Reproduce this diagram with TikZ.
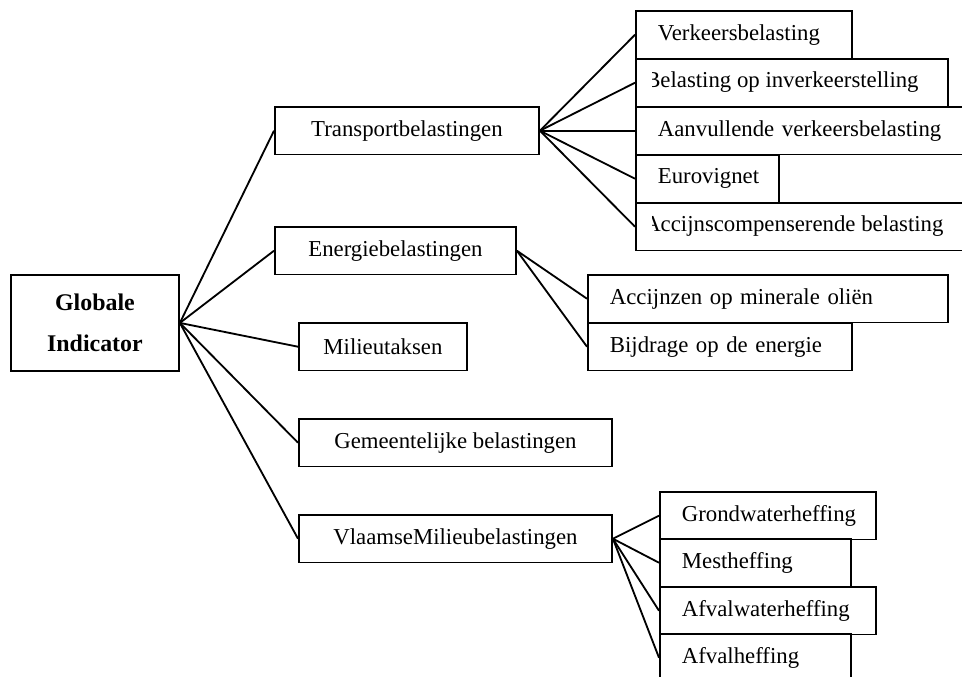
\documentclass[tikz,border=0pt]{standalone}
\usepackage{fontspec}
\setmainfont{Liberation Serif}
\usepackage{tikz}
\tikzset{
	root/.style={draw, line width=1.3pt, anchor=north west, inner sep=0pt, minimum width=4.2cm, minimum height=2.4cm, align=center, font=\bfseries\fontsize{17}{29.5}\selectfont},
	mid/.style={draw, line width=1.3pt, anchor=north west, inner sep=0pt, minimum width=#1, minimum height=1.19cm, font=\fontsize{16.2}{19}\selectfont},
	leaf/.style={draw, line width=1.3pt, anchor=north west, inner xsep=0.55cm, inner ysep=0pt, text width=#1, align=left, minimum height=1.19cm, font=\fontsize{16.2}{19}\selectfont},
	cuttext/.style={anchor=west, inner sep=0pt, font=\fontsize{16.2}{19}\selectfont},
	link/.style={line width=1.3pt},
}

\begin{document}
\begin{tikzpicture}[x=0.025cm, y=-0.025cm]
		%%%%% START %%%%%
		\useasboundingbox (0,0) rectangle (962,677);
		\clip (0,0) rectangle (962,677);
		
		\node[root] (glob) at (10,274) {Globale\\Indicator};
		
		\node[mid=6.6cm] (trans) at (274,106) {Transportbelastingen};
		\node[mid=6.025cm] (energ) at (274,226) {Energiebelastingen};
		\node[mid=4.2cm] (milieu) at (298,322) {Milieutaksen};
		\node[mid=7.825cm] (gemeen) at (298,418) {Gemeentelijke belastingen};
		\node[mid=7.825cm] (vlaams) at (298,514) {VlaamseMilieubelastingen};
		
		% transport
		\node[leaf=4.3cm] (verk) at (635,10) {Verkeersbelasting};
		\node[leaf=6.7cm] (inverk) at (635,58) {};
		\begin{scope}
			\clip (652,58) rectangle (962,106);
			\node[cuttext] (inverktxt) at (645,82) {Belasting op inverkeerstelling};
		\end{scope}
		\node[leaf=8.4cm] (aanv) at (635,106) {Aanvullende verkeersbelasting};
		\node[leaf=8.4cm] (accomp) at (635,202) {};
		\begin{scope}
			\clip (652,202) rectangle (962,250);
			\node[cuttext] (accomptxt) at (644,226) {Accijnscompenserende belasting};
		\end{scope}
		\node[leaf=2.475cm] (euro) at (635,154) {Eurovignet};
		
		% energie
		\node[leaf=7.9cm] (accijn) at (587,274) {Accijnzen op minerale oliën};
		\node[leaf=5.5cm] (bijdr) at (587,322) {Bijdrage op de energie};
		
		% vlaams
		\node[leaf=4.3cm] (grond) at (659,491) {Grondwaterheffing};
		\node[leaf=3.675cm] (mest) at (659,538) {Mestheffing};
		\node[leaf=4.3cm] (afvalw) at (659,586) {Afvalwaterheffing};
		\node[leaf=3.675cm] (afval) at (659,633) {Afvalheffing};
		
		\draw[link] (glob.east) -- (trans.west);
		\draw[link] (glob.east) -- (energ.west);
		\draw[link] (glob.east) -- (milieu.west);
		\draw[link] (glob.east) -- (gemeen.west);
		\draw[link] (glob.east) -- (vlaams.west);
		
		\draw[link] (trans.east) -- (verk.west);
		\draw[link] (trans.east) -- (inverk.west);
		\draw[link] (trans.east) -- (aanv.west);
		\draw[link] (trans.east) -- (euro.west);
		\draw[link] (trans.east) -- (accomp.west);
		
		\draw[link] (energ.east) -- (accijn.west);
		\draw[link] (energ.east) -- (bijdr.west);
		
		\draw[link] (vlaams.east) -- (grond.west);
		\draw[link] (vlaams.east) -- (mest.west);
		\draw[link] (vlaams.east) -- (afvalw.west);
		\draw[link] (vlaams.east) -- (afval.west);
		
		%%%%% END %%%%%
	\end{tikzpicture}
\end{document}
